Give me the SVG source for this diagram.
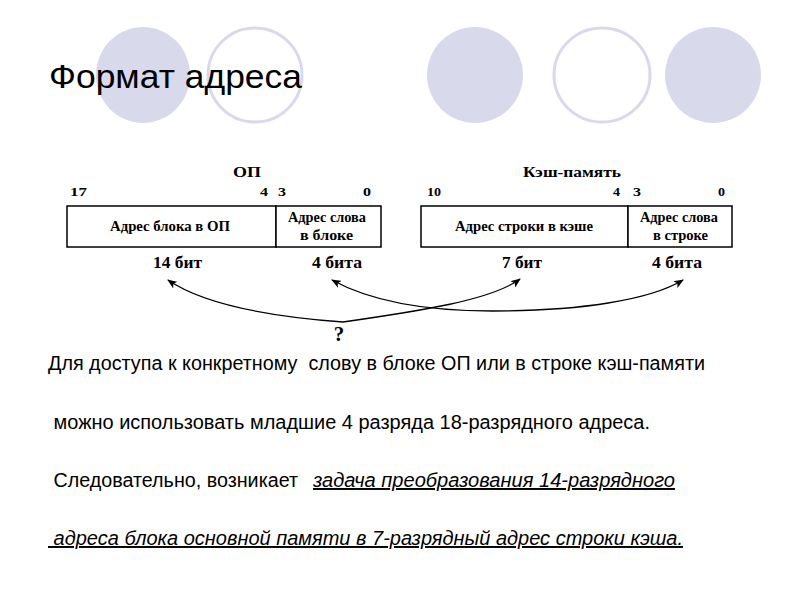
<svg xmlns="http://www.w3.org/2000/svg" width="800" height="600" viewBox="0 0 800 600">
<style>
.bg{fill:#ffffff}
.cf{fill:#d9d9ec;stroke:none}
.co{fill:none;stroke:#d9d9ec;stroke-width:3}
.title{font-family:"Liberation Sans",Arial,sans-serif;font-size:34px;fill:#000}
.s{font-family:"Liberation Serif","Times New Roman",serif;font-weight:bold;fill:#000}
.h{font-size:15.5px}
.n{font-size:12.5px}
.b{font-size:14px}
.bits{font-size:17px}
.q{font-size:21px}
.box{fill:#fff;stroke:#000;stroke-width:1.5}
.conn{fill:none;stroke:#000;stroke-width:1.3;marker-start:url(#ah);marker-end:url(#ah)}
.body{font-family:"Liberation Sans",Arial,sans-serif;font-size:19.5px;fill:#000;white-space:pre}
.u{font-style:italic;text-decoration:underline}
</style>
<defs>
<marker id="ah" viewBox="0 0 10 8" refX="9" refY="4" markerWidth="10" markerHeight="8" markerUnits="userSpaceOnUse" orient="auto-start-reverse">
<path d="M0,0 L10,4 L0,8 L2.5,4 Z" fill="#000"/>
</marker>
</defs>
<rect class="bg" x="0" y="0" width="800" height="600"/>
<g id="decor">
<ellipse class="cf" cx="143" cy="75" rx="47" ry="48"/>
<ellipse class="co" cx="255" cy="75" rx="47" ry="47"/>
<ellipse class="cf" cx="475" cy="75" rx="48" ry="48"/>
<ellipse class="co" cx="602" cy="75" rx="48" ry="47"/>
<ellipse class="cf" cx="713" cy="75" rx="48" ry="48"/>
</g>
<text class="title" x="49" y="88" textLength="253" lengthAdjust="spacingAndGlyphs">Формат адреса</text>
<g id="op">
<text class="s h" x="233" y="177" textLength="28" lengthAdjust="spacingAndGlyphs">ОП</text>
<text class="s n" x="70" y="196" textLength="17" lengthAdjust="spacingAndGlyphs">17</text>
<text class="s n" x="260" y="196" textLength="8" lengthAdjust="spacingAndGlyphs">4</text>
<text class="s n" x="278" y="196" textLength="8" lengthAdjust="spacingAndGlyphs">3</text>
<text class="s n" x="363" y="196" textLength="8" lengthAdjust="spacingAndGlyphs">0</text>
<g id="op-block">
<rect class="box" x="67" y="206" width="209" height="41"/>
<text class="s b" x="110" y="231" textLength="120" lengthAdjust="spacingAndGlyphs">Адрес блока в ОП</text>
</g>
<g id="op-word">
<rect class="box" x="276" y="206" width="105" height="41"/>
<text class="s b" x="288" y="222" textLength="78" lengthAdjust="spacingAndGlyphs">Адрес слова</text>
<text class="s b" x="300" y="240" textLength="53" lengthAdjust="spacingAndGlyphs">в блоке</text>
</g>
<text class="s bits" x="153" y="268" textLength="49" lengthAdjust="spacingAndGlyphs">14 бит</text>
<text class="s bits" x="312" y="268" textLength="50" lengthAdjust="spacingAndGlyphs">4 бита</text>
</g>
<g id="cache">
<text class="s h" x="523" y="177" textLength="98" lengthAdjust="spacingAndGlyphs">Кэш-память</text>
<text class="s n" x="427" y="196" textLength="14" lengthAdjust="spacingAndGlyphs">10</text>
<text class="s n" x="613" y="196" textLength="7" lengthAdjust="spacingAndGlyphs">4</text>
<text class="s n" x="633" y="196" textLength="8" lengthAdjust="spacingAndGlyphs">3</text>
<text class="s n" x="718" y="196" textLength="7" lengthAdjust="spacingAndGlyphs">0</text>
<g id="cache-line">
<rect class="box" x="421" y="206" width="207" height="41"/>
<text class="s b" x="455" y="231" textLength="138" lengthAdjust="spacingAndGlyphs">Адрес строки в кэше</text>
</g>
<g id="cache-word">
<rect class="box" x="628" y="206" width="104" height="41"/>
<text class="s b" x="640" y="222" textLength="78" lengthAdjust="spacingAndGlyphs">Адрес слова</text>
<text class="s b" x="653" y="240" textLength="55" lengthAdjust="spacingAndGlyphs">в строке</text>
</g>
<text class="s bits" x="502" y="268" textLength="40" lengthAdjust="spacingAndGlyphs">7 бит</text>
<text class="s bits" x="652" y="268" textLength="50" lengthAdjust="spacingAndGlyphs">4 бита</text>
</g>
<g id="connectors">
<path class="conn" d="M168,280 C200,302 262,316 343,322 C420,311 492,300 520,279"/>
<path class="conn" d="M332,280 C372,302 425,311 492,311 C580,311 650,300 683,280"/>
</g>
<text class="s q" x="339" y="341" text-anchor="middle">?</text>
<g id="body">
<text class="body" x="48" y="370" textLength="657" lengthAdjust="spacingAndGlyphs">Для доступа к конкретному  слову в блоке ОП или в строке кэш-памяти</text>
<text class="body" x="48" y="429" textLength="602" lengthAdjust="spacingAndGlyphs"> можно использовать младшие 4 разряда 18-разрядного адреса.</text>
<text class="body" x="48" y="487" textLength="250" lengthAdjust="spacingAndGlyphs"> Следовательно, возникает</text>
<text class="body u" x="313" y="487" textLength="362" lengthAdjust="spacingAndGlyphs">задача преобразования 14-разрядного</text>
<text class="body u" x="48" y="545" textLength="635" lengthAdjust="spacingAndGlyphs"> адреса блока основной памяти в 7-разрядный адрес строки кэша.</text>
</g>
</svg>
